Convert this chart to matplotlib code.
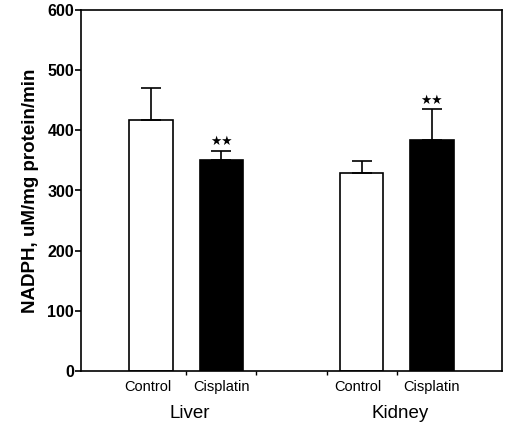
"""NADPH activity, liver vs kidney, control vs cisplatin."""
import numpy as np
import matplotlib
matplotlib.use('Agg')
import matplotlib.pyplot as plt

plt.rcParams.update({
    'font.family': ['Liberation Sans', 'DejaVu Sans'],
    'font.size': 10,
    'axes.linewidth': 1.2,
})

groups = ['Liver', 'Kidney']
treatments = ['Control', 'Cisplatin']
means = [418, 350, 329, 384]
errors = [53, 16, 20, 51]
significant = [False, True, False, True]

fig = plt.figure(figsize=(5.10, 4.23), dpi=100)
ax = fig.add_axes([81 / 510, 1 - 371 / 423, 421 / 510, 361 / 423])

x = np.array([0, 1, 3, 4])
colors = ['white', 'black', 'white', 'black']
ax.bar(x, means, 0.62, color=colors, edgecolor='black', linewidth=1.2,
       yerr=[np.zeros(4), errors], capsize=7,
       error_kw={'elinewidth': 1.2, 'capthick': 1.2, 'ecolor': 'black'},
       zorder=2)

for xi, m, e, s in zip(x, means, errors, significant):
    if s:
        ax.text(xi, m + e + 4, '\u2605\u2605', ha='center', va='bottom',
                fontsize=9, family='DejaVu Sans')

ax.set_xlim(-1, 5)
ax.set_ylim(0, 600)
ax.set_yticks(np.arange(0, 601, 100))
ax.set_xticks([0.5, 1.5, 2.5, 3.5])
ax.set_xticklabels([])
ax.tick_params(axis='x', direction='out', length=3, width=1)
ax.tick_params(axis='y', direction='out', length=4, width=1.2, pad=1,
               labelsize=11.5)
for lbl in ax.get_yticklabels():
    lbl.set_fontweight('bold')

ax.set_ylabel('NADPH, uM/mg protein/min', fontsize=13.5, fontweight='bold',
              labelpad=6)

# category and group labels under the axis
for xi, t in zip(x, treatments * 2):
    ax.text(xi - 0.05 if t == 'Control' else xi, -27, t, ha='center',
            va='center', fontsize=10.5)
for gi, g in enumerate(groups):
    ax.text(x[2 * gi] + 0.55, -70, g, ha='center', va='center', fontsize=13.5)

fig.savefig('out.png', dpi=100, facecolor='white')
